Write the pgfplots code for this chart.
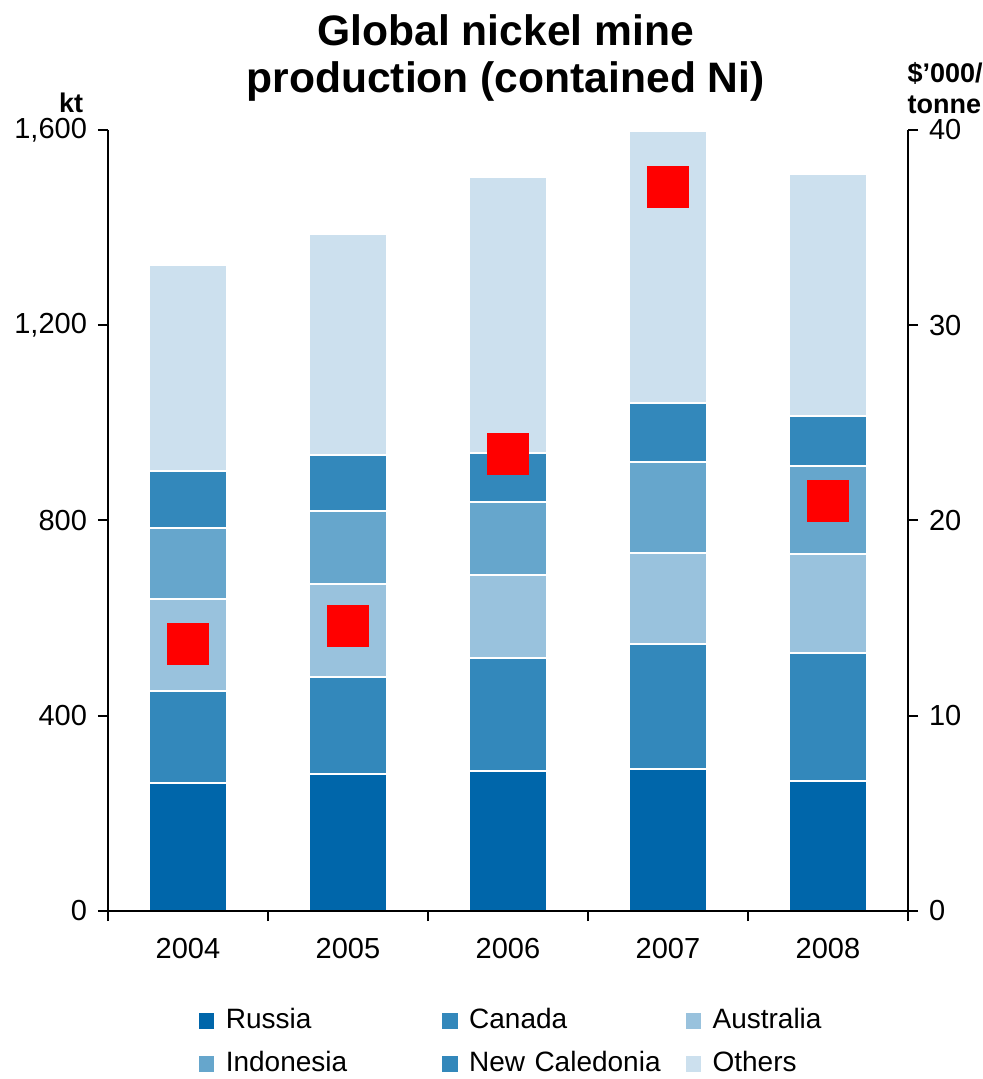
\documentclass[border=0pt]{standalone}
\usepackage{pgfplots}
\pgfplotsset{compat=1.18}
\usepackage{fontspec}
\setmainfont{Liberation Sans}
\usetikzlibrary{calc}

\definecolor{cRussia}{RGB}{0,102,170}
\definecolor{cCanada}{RGB}{51,136,187}
\definecolor{cAustralia}{RGB}{153,194,221}
\definecolor{cIndonesia}{RGB}{102,166,204}
\definecolor{cNewCal}{RGB}{51,136,187}
\definecolor{cOthers}{RGB}{204,224,238}

\begin{document}
\begin{tikzpicture}
% production, kt (left axis)
\begin{axis}[
  name=main,
  scale only axis,
  width=400pt, height=390.5pt,
  axis on top,
  ybar stacked,
  bar width=39pt,
  xmin=-0.5, xmax=4.5,
  ymin=0, ymax=1600,
  axis x line*=bottom,
  axis y line*=left,
  axis line style={black, line width=1pt},
  tick style={black, line width=1pt},
  tick align=outside,
  major tick length=5pt,
  xtick={-0.5,0.5,...,4.5},
  xticklabels={2004,2005,2006,2007,2008},
  x tick label as interval,
  ytick={0,400,800,1200,1600},
  /pgf/number format/assume math mode=true,
  /pgf/number format/1000 sep={,},
  tick label style={font=\fontsize{14.5}{16}\selectfont},
  xticklabel style={yshift=-5pt},
  yticklabel style={xshift=-2pt},
  ylabel={\bfseries kt},
  ylabel style={rotate=-90, at={(axis description cs:-0.046,1.023)}, anchor=base, inner sep=0pt, font=\fontsize{13.5}{16}\selectfont},
  title={Global nickel mine\\production (contained Ni)},
  title style={at={(axis description cs:0.497,1)}, anchor=south, yshift=5pt, align=center,
    font=\bfseries\fontsize{21.3}{23.5}\selectfont},
  legend columns=3,
  legend cell align=left,
  legend image code/.code={\fill[#1] (0pt,-4.5pt) rectangle (9pt,4.5pt);},
  legend style={at={(axis description cs:0.5,-0.124)}, anchor=north, xshift=26pt, draw=none, inner sep=0pt,
    font=\fontsize{14}{16}\selectfont, row sep=8.5pt,
    nodes={inner xsep=4.5pt, inner ysep=0pt, text width=101pt, text height=10pt, text depth=3pt},
    /tikz/every even column/.append style={column sep=1.5pt}},
  every axis plot/.append style={draw=white, line width=1.2pt},
]
\addplot[fill=cRussia] coordinates {(0,262) (1,281) (2,287) (3,291) (4,266)};
\addlegendentry{Russia}
\addplot[fill=cCanada] coordinates {(0,189) (1,198) (2,231) (3,256) (4,263)};
\addlegendentry{Canada}
\addplot[fill=cAustralia] coordinates {(0,188) (1,191) (2,170) (3,186) (4,202)};
\addlegendentry{Australia}
\addplot[fill=cIndonesia] coordinates {(0,146) (1,149) (2,150) (3,187) (4,181)};
\addlegendentry{Indonesia}
\addplot[fill=cNewCal] coordinates {(0,116) (1,115) (2,100) (3,121) (4,102)};
\addlegendentry{New Caledonia}
\addplot[fill=cOthers] coordinates {(0,422) (1,453) (2,566) (3,557) (4,496)};
\addlegendentry{Others}
\end{axis}
% nickel price, $'000/tonne (right axis)
\begin{axis}[
  scale only axis,
  width=400pt, height=390.5pt,
  xmin=-0.5, xmax=4.5,
  ymin=0, ymax=40,
  axis x line=none,
  axis y line*=right,
  axis line style={black, line width=1pt},
  tick style={black, line width=1pt},
  tick align=outside,
  major tick length=5pt,
  ytick={0,10,20,30,40},
  /pgf/number format/assume math mode=true,
  tick label style={font=\fontsize{14.5}{16}\selectfont},
  yticklabel style={xshift=2pt},
  ylabel={\$’000/\\tonne},
  ylabel style={rotate=-90, at={(axis description cs:0.999,1.02)}, anchor=south west, inner sep=0pt,
    align=left, font=\bfseries\fontsize{13.5}{15.5}\selectfont},
]
\addplot[only marks, mark=square*, mark size=10.25pt, color=red] coordinates {
  (0,13.7) (1,14.6) (2,23.4) (3,37.1) (4,21.0)};
\end{axis}
\pgfresetboundingbox
\path ($(main.south west)+(-54pt,-84pt)$) rectangle ($(main.south west)+(437pt,455.5pt)$);
\end{tikzpicture}
\end{document}
